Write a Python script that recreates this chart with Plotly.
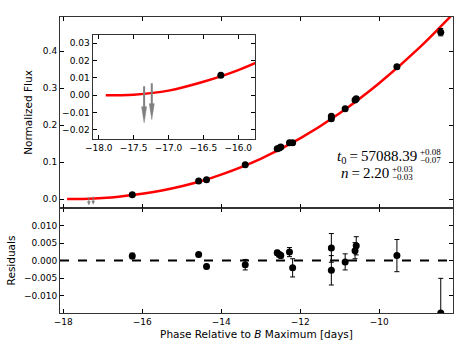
import plotly.graph_objects as go

# ---------------- data ----------------
phase = [-16.25, -14.57, -14.37, -13.39, -12.58, -12.53, -12.49, -12.27, -12.19,
         -11.21, -11.21, -10.86, -10.61, -10.58, -9.55, -8.44]
flux = [0.0116, 0.049, 0.052, 0.0927, 0.136, 0.138, 0.1405, 0.152, 0.152,
        0.224, 0.217, 0.244, 0.2676, 0.271, 0.3576, 0.451]
resid = [0.0013, 0.0017, -0.0017, -0.0012, 0.0022, 0.0017, 0.0014, 0.0024, -0.0021,
         0.0036, -0.0028, -0.0004, 0.0028, 0.0042, 0.0014, -0.0150]
err = [0.0008, 0.0006, 0.0006, 0.0015, 0.0007, 0.0007, 0.0007, 0.0013, 0.0026,
       0.0041, 0.0042, 0.0023, 0.0023, 0.0026, 0.0046, 0.0099]

# upper limits (gray arrows)
lim_phase = [-17.35, -17.24]
lim_flux = [0.0052, 0.0070]

# fitted power-law curve
curve_phase = [-17.9, -17.5, -17.0, -16.5, -16.0, -15.5, -15.0, -14.5, -14.0,
               -13.0, -12.0, -11.0, -10.0, -9.0, -8.0]
curve_flux = [0.0, 0.0004, 0.0027, 0.0078, 0.0145, 0.0235, 0.0348, 0.049, 0.0662,
              0.109, 0.164, 0.232, 0.313, 0.407, 0.515]

x_ticks = [-18, -16, -14, -12, -10]
flux_ticks = [0.0, 0.1, 0.2, 0.3, 0.4]
res_ticks = [-0.010, -0.005, 0.0, 0.005, 0.010]
inset_x_ticks = [-18.0, -17.5, -17.0, -16.5, -16.0]
inset_y_ticks = [-0.02, -0.01, 0.0, 0.01, 0.02, 0.03]

# ---------------- style constants ----------------
ARROW_LEN = 0.021      # arrow length (flux units)
HEAD_LEN = 0.0092      # arrow-head length (flux units)
HEAD_HALF = 0.036      # arrow-head half width (phase units)

W, H = 463, 348
ML, MR, MT, MB = 60, 10, 17, 35
PW, PH = W - ML - MR, H - MT - MB


def px_x(p):
    return (p - ML) / PW


def px_y(p):
    return (H - MB - p) / PH


split = px_y(208)

fig = go.Figure()

red = "#ff0000"
gray = "#808080"

# upper-limit arrows built from the limit values
shaft_x, shaft_y, head_x, head_y = [], [], [], []
for lp, lf in zip(lim_phase, lim_flux):
    tip = lf - ARROW_LEN
    shaft_x += [lp, lp, None]
    shaft_y += [lf, tip + HEAD_LEN * 0.5, None]
    head_x += [lp - HEAD_HALF, lp + HEAD_HALF, lp, lp - HEAD_HALF, None]
    head_y += [tip + HEAD_LEN, tip + HEAD_LEN, tip, tip + HEAD_LEN, None]


def add_arrows(xa, ya, shaft_w):
    fig.add_trace(go.Scatter(x=shaft_x, y=shaft_y, mode="lines", line=dict(color=gray, width=shaft_w),
                             xaxis=xa, yaxis=ya, showlegend=False, hoverinfo="skip"))
    fig.add_trace(go.Scatter(x=head_x, y=head_y, mode="lines", fill="toself", fillcolor=gray,
                             line=dict(color=gray, width=0.5),
                             xaxis=xa, yaxis=ya, showlegend=False, hoverinfo="skip"))


# main panel
fig.add_trace(go.Scatter(x=curve_phase, y=curve_flux, mode="lines", line=dict(color=red, width=2.5, shape="spline"),
                         xaxis="x2", yaxis="y2", showlegend=False, hoverinfo="skip"))
add_arrows("x2", "y2", 1.0)
fig.add_trace(go.Scatter(x=phase, y=flux, mode="markers", marker=dict(color="black", size=7),
                         error_y=dict(type="data", array=err, color="black", thickness=1, width=2.5),
                         xaxis="x2", yaxis="y2", showlegend=False))
# residuals
fig.add_trace(go.Scatter(x=phase, y=resid, mode="markers", marker=dict(color="black", size=7),
                         error_y=dict(type="data", array=err, color="black", thickness=1, width=2.5),
                         xaxis="x", yaxis="y", showlegend=False))
# inset
fig.add_trace(go.Scatter(x=curve_phase, y=curve_flux, mode="lines", line=dict(color=red, width=2.5, shape="spline"),
                         xaxis="x3", yaxis="y3", showlegend=False, hoverinfo="skip"))
add_arrows("x3", "y3", 2.0)
fig.add_trace(go.Scatter(x=phase, y=flux, mode="markers", marker=dict(color="black", size=7),
                         xaxis="x3", yaxis="y3", showlegend=False))

ax_common = dict(showline=True, linecolor="#333333", linewidth=1, mirror="ticks", ticks="inside",
                 ticklen=4, tickcolor="black", tickwidth=1, showgrid=False, zeroline=False,
                 tickfont=dict(family="DejaVu Sans", size=9, color="black"))
title_font = dict(family="DejaVu Sans", size=10.5, color="black")

fig.update_layout(
    width=W, height=H, margin=dict(l=ML, r=MR, t=MT, b=MB),
    paper_bgcolor="white", plot_bgcolor="white",
    xaxis=dict(**ax_common, domain=[0, 1], anchor="y", range=[-18.08, -8.13], tickvals=x_ticks,
               title=dict(text="Phase Relative to <i>B</i> Maximum [days]", font=title_font, standoff=4)),
    yaxis=dict(**ax_common, domain=[0, split], anchor="x", range=[-0.015, 0.015], tickvals=res_ticks,
               tickformat=".3f", title=dict(text="Residuals", font=title_font, standoff=6)),
    xaxis2=dict(**ax_common, domain=[0, 1], anchor="y2", range=[-18.08, -8.13], tickvals=x_ticks,
                showticklabels=False),
    yaxis2=dict(**ax_common, domain=[split, 1], anchor="x2", range=[-0.024, 0.492], tickvals=flux_ticks,
                tickformat=".1f", title=dict(text="Normalized Flux", font=title_font, standoff=8)),
    xaxis3=dict(**ax_common, domain=[px_x(92.5), px_x(255)], anchor="y3", range=[-18.09, -15.76],
                tickvals=inset_x_ticks, tickformat=".1f"),
    yaxis3=dict(**ax_common, domain=[px_y(139), px_y(35)], anchor="x3", range=[-0.0252, 0.0348],
                tickvals=inset_y_ticks, tickformat=".2f"),
)

# residual zero line
fig.add_shape(type="line", xref="x domain", yref="y", x0=0, x1=1, y0=0, y1=0,
              line=dict(color="black", width=2, dash="dash"))

# fit parameter text
serif = "Liberation Serif"
main_fs, small_fs = 15, 9
ts = "\u2009"
texts = [
    (f"<i>t</i><sub>0</sub>{ts}={ts}57088.39", "+0.08", "\u22120.07", 418, 156.5, 152, 159.5),
    (f"<i>n</i>{ts}={ts}2.20", "+0.03", "\u22120.03", 390, 172.5, 169, 176.5),
]
for base, sup, sub, xr, yc, ysup, ysub in texts:
    fig.add_annotation(x=px_x(xr), y=px_y(yc), xref="paper", yref="paper", text=base, showarrow=False,
                       xanchor="right", yanchor="middle", borderpad=0,
                       font=dict(family=serif, size=main_fs, color="black"))
    fig.add_annotation(x=px_x(xr + 1), y=px_y(ysup), xref="paper", yref="paper", text=sup, showarrow=False,
                       xanchor="left", yanchor="middle", borderpad=0,
                       font=dict(family=serif, size=small_fs, color="black"))
    fig.add_annotation(x=px_x(xr + 1), y=px_y(ysub), xref="paper", yref="paper", text=sub, showarrow=False,
                       xanchor="left", yanchor="middle", borderpad=0,
                       font=dict(family=serif, size=small_fs, color="black"))

fig.write_html("out.html", config={"displayModeBar": False},
               post_script="document.body.style.margin='0';document.body.style.padding='0';")
